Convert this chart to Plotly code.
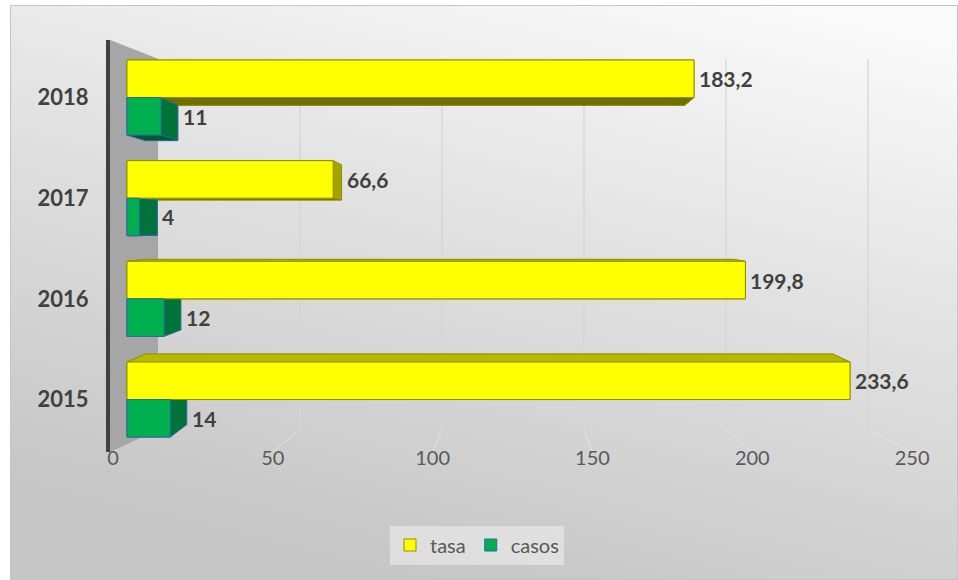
import base64
import plotly.graph_objects as go

# ---------------- data ----------------
years = ["2015", "2016", "2017", "2018"]
tasa = [233.6, 199.8, 66.6, 183.2]
casos = [14, 12, 4, 11]
x_ticks = [0, 50, 100, 150, 200, 250]
series_names = ["tasa", "casos"]

# ---------------- style / geometry ----------------
W, H = 958, 580
L, R, T, B = 110, 43, 40, 128
PLOT_W = W - L - R
XR = [-5.49, 254.6]      # main (front plane) scale
X2R = [-0.94, 250.9]     # floor-edge scale used for the tick labels
YR = [-0.521, 3.571]
BAR_W = 0.3725
DEPTH = 0.6               # bar depth as a fraction of the plot depth
VP_Y = 1.7
PERSP_Y = 0.1
FONT = "Lato"

ypos = list(range(len(years)))


def back(x, y, d=DEPTH):
    """Point on the receding face (simple perspective toward the back wall)."""
    return (x + d * (10.02 - 0.0824 * x), y + d * PERSP_Y * (VP_Y - y))


def hull(pts):
    pts = sorted(set(pts))
    def cross(o, a, b):
        return (a[0] - o[0]) * (b[1] - o[1]) - (a[1] - o[1]) * (b[0] - o[0])
    lower, upper = [], []
    for p in pts:
        while len(lower) >= 2 and cross(lower[-2], lower[-1], p) <= 0:
            lower.pop()
        lower.append(p)
    for p in reversed(pts):
        while len(upper) >= 2 and cross(upper[-2], upper[-1], p) <= 0:
            upper.pop()
        upper.append(p)
    return lower[:-1] + upper[:-1]


def path(pts):
    return "M " + " L ".join(f"{x:.4f},{y:.4f}" for x, y in pts) + " Z"


def x2_to_main(v):
    px = (v - X2R[0]) / (X2R[1] - X2R[0]) * PLOT_W
    return XR[0] + px / PLOT_W * (XR[1] - XR[0])


shapes = []

# back-plane gridlines + floor lines
for v in x_ticks[1:]:
    xb0, yb0 = back(v, YR[0], 1)
    xb1, yb1 = back(v, YR[1], 1)
    shapes.append(dict(type="line", xref="x", yref="y", x0=xb0, y0=yb0, x1=xb1, y1=yb1,
                       line=dict(color="#d4d4d4", width=1.2), layer="below"))
    shapes.append(dict(type="line", xref="x", yref="y", x0=xb0, y0=yb0,
                       x1=x2_to_main(v), y1=YR[0],
                       line=dict(color="#e2e2e2", width=1), layer="below"))

# left side wall
wall = [(XR[0], YR[0]), (XR[0], YR[1]), back(0, YR[1], 1), back(0, YR[0], 1)]
shapes.append(dict(type="path", xref="x", yref="y", path=path(wall),
                   fillcolor="#a6a6a6", line=dict(width=0), layer="below"))

styles = {
    "tasa": dict(front="#ffff00", edge="#8f8f00", side="#a3a300", top="#b8b800",
                 bottom="#6f6f00", off=0.0),
    "casos": dict(front="#00b050", edge="#2e67a0", side="#00733a", top="#00a04a",
                  bottom="#005a2c", off=-BAR_W),
}

annotations = []
for name, vals in zip(series_names, [tasa, casos]):
    st = styles[name]
    for i, v in enumerate(vals):
        y0 = ypos[i] + st["off"]
        y1 = y0 + BAR_W
        front = [(0, y0), (v, y0), (v, y1), (0, y1)]
        backs = [back(x, y) for x, y in front]
        shapes.append(dict(type="path", xref="x", yref="y", path=path(hull(front + backs)),
                           fillcolor=st["side"], line=dict(color=st["edge"], width=1),
                           layer="below"))
        if back(0, y1)[1] > y1:
            face = [(0, y1), (v, y1), back(v, y1), back(0, y1)]
            col = st["top"]
        else:
            face = [(0, y0), (v, y0), back(v, y0), back(0, y0)]
            col = st["bottom"]
        shapes.append(dict(type="path", xref="x", yref="y", path=path(face),
                           fillcolor=col, line=dict(color=st["edge"], width=0.8),
                           layer="below"))
        annotations.append(dict(
            x=max(v, back(v, (y0 + y1) / 2)[0]), y=(y0 + y1) / 2, xref="x", yref="y",
            text=f"{v:g}".replace(".", ","), showarrow=False, xanchor="left",
            yanchor="middle", xshift=3,
            font=dict(family=FONT, size=21, color="#404040", weight="bold")))

fig = go.Figure()
for name, vals in zip(series_names, [tasa, casos]):
    st = styles[name]
    fig.add_trace(go.Bar(
        name=name, x=vals, y=ypos, orientation="h", base=0,
        offset=st["off"], width=BAR_W,
        marker=dict(color=st["front"], line=dict(color=st["edge"], width=1)),
        hoverinfo="x+name"))

# carrier trace for the tick-label axis
fig.add_trace(go.Scatter(x=[x_ticks[0]], y=[ypos[0]], xaxis="x2", mode="markers",
                         marker=dict(opacity=0), showlegend=False, hoverinfo="skip"))

svg = ('<svg xmlns="http://www.w3.org/2000/svg" width="948" height="575">'
       '<defs><linearGradient id="g" x1="0.85" y1="0" x2="0.45" y2="1">'
       '<stop offset="0" stop-color="#fafafa"/><stop offset="0.4" stop-color="#e4e4e4"/>'
       '<stop offset="1" stop-color="#c6c6c6"/></linearGradient></defs>'
       '<rect x="0.5" y="0.5" width="947" height="574" fill="url(#g)" stroke="#c4c4c4"/></svg>')
bg_src = "data:image/svg+xml;base64," + base64.b64encode(svg.encode()).decode()
plot_h = H - T - B

fig.update_layout(
    width=W, height=H,
    margin=dict(l=L, r=R, t=T, b=B, pad=0),
    paper_bgcolor="white", plot_bgcolor="rgba(0,0,0,0)",
    barmode="overlay",
    showlegend=True,
    legend=dict(orientation="h", x=(477 - L) / PLOT_W, xanchor="center",
                y=-(545 - (H - B)) / plot_h, yanchor="middle",
                bgcolor="rgba(240,240,240,0.55)", borderwidth=0,
                font=dict(family=FONT, size=20, color="#595959"),
                itemwidth=30, tracegroupgap=0),
    xaxis=dict(range=XR, showgrid=False, zeroline=False, showticklabels=False,
               showline=False, fixedrange=True),
    xaxis2=dict(range=X2R, overlaying="x", anchor="y", side="bottom",
                tickvals=x_ticks, ticktext=[str(t) for t in x_ticks],
                showgrid=False, zeroline=False, showline=False, ticks="",
                ticklabelstandoff=-8,
                tickfont=dict(family=FONT, size=20, color="#595959")),
    yaxis=dict(range=YR, tickvals=ypos, ticktext=years, showgrid=False, zeroline=False,
               showline=True, linecolor="#404040", linewidth=4, ticks="",
               ticklabelstandoff=13,
               tickfont=dict(family=FONT, size=22, color="#404040", weight="bold")),
    shapes=shapes,
    annotations=annotations,
    images=[dict(source=bg_src, xref="paper", yref="paper",
                 x=(10 - L) / PLOT_W, y=((H - B) - 5) / plot_h,
                 sizex=948 / PLOT_W, sizey=575 / plot_h,
                 xanchor="left", yanchor="top", sizing="stretch", layer="below")],
)

fig.write_html("out.html",
               config={"displayModeBar": False},
               post_script="document.body.style.margin='0';document.body.style.overflow='hidden';")
